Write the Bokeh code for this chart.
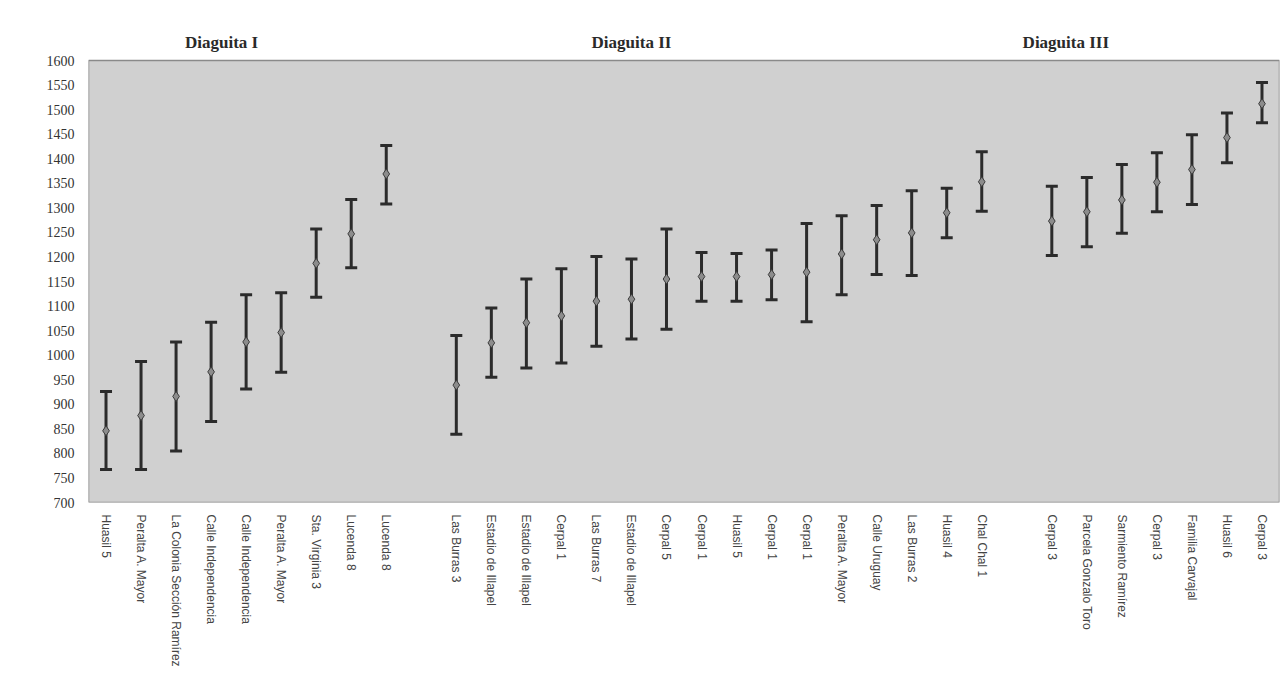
from bokeh.plotting import figure
from bokeh.models import Range1d, FixedTicker, ColumnDataSource
from bokeh.core.properties import value
from bokeh.embed import file_html
from bokeh.resources import INLINE

# ---------------- data ----------------
groups = ["Diaguita I", "Diaguita II", "Diaguita III"]

sites_1 = ["Huasil 5", "Peralta A. Mayor", "La Colonia Sección Ramírez",
           "Calle Independencia", "Calle Independencia", "Peralta A. Mayor",
           "Sta. Virginia 3", "Lucenda 8", "Lucenda 8"]
mean_1 = [846, 877, 916, 966, 1027, 1046, 1187, 1247, 1369]
low_1 = [767, 767, 805, 865, 931, 965, 1118, 1178, 1308]
high_1 = [926, 987, 1027, 1067, 1123, 1127, 1257, 1317, 1427]

sites_2 = ["Las Burras 3", "Estadio de Illapel", "Estadio de Illapel", "Cerpal 1",
           "Las Burras 7", "Estadio de Illapel", "Cerpal 5", "Cerpal 1", "Huasil 5",
           "Cerpal 1", "Cerpal 1", "Peralta A. Mayor", "Calle Uruguay",
           "Las Burras 2", "Huasil 4", "Chal Chal 1"]
mean_2 = [939, 1025, 1066, 1080, 1110, 1114, 1155, 1160, 1160, 1164, 1169,
          1206, 1235, 1249, 1290, 1353]
low_2 = [839, 955, 974, 984, 1018, 1033, 1053, 1110, 1110, 1113, 1068,
         1123, 1164, 1162, 1239, 1293]
high_2 = [1040, 1096, 1155, 1176, 1201, 1196, 1257, 1209, 1207, 1214, 1268,
          1284, 1305, 1335, 1340, 1414]

sites_3 = ["Cerpal 3", "Parcela Gonzalo Toro", "Sarmiento Ramírez", "Cerpal 3",
           "Familia Carvajal", "Huasil 6", "Cerpal 3"]
mean_3 = [1273, 1292, 1316, 1352, 1378, 1443, 1512]
low_3 = [1203, 1221, 1248, 1292, 1307, 1392, 1473]
high_3 = [1344, 1362, 1388, 1412, 1449, 1493, 1555]

y_min, y_max = 700, 1600
y_ticks = list(range(y_min, y_max + 1, 50))

# ---------------- layout of categories (one empty slot between groups) -----
all_sites, xs, means, lows, highs = [], [], [], [], []
pos = 0
group_spans = []
for sites, m, lo, hi in [(sites_1, mean_1, low_1, high_1),
                         (sites_2, mean_2, low_2, high_2),
                         (sites_3, mean_3, low_3, high_3)]:
    start = pos
    for s, mm, l, h in zip(sites, m, lo, hi):
        all_sites.append(s); xs.append(pos); means.append(mm); lows.append(l); highs.append(h)
        pos += 1
    group_spans.append((start, pos - 1))
    pos += 1  # gap slot
n_slots = pos - 1

src = ColumnDataSource(dict(x=xs, mean=means, low=lows, high=highs))

serif = "Liberation Serif"

# frame: 442 px for 700..1600, plus 50 px headroom above for group titles
px_per_unit = 442 / (y_max - y_min)
y_top = y_max + 50 / px_per_unit

p = figure(width=1283, height=676, output_backend="svg", toolbar_location=None,
           x_range=Range1d(-0.5, n_slots - 0.5), y_range=Range1d(y_min, y_top),
           min_border_left=88, min_border_right=4, min_border_top=10,
           min_border_bottom=174)

p.background_fill_color = "white"
p.border_fill_color = "white"
p.outline_line_color = None
p.xgrid.visible = False
p.ygrid.visible = False

# grey plotting panel 700..1600
p.quad(left=[-0.5], right=[n_slots - 0.5], bottom=[y_min], top=[y_max],
       fill_color="#d0d0d0", line_color="#8a8a8a", line_width=1.5)

# y axis
p.yaxis.ticker = FixedTicker(ticks=y_ticks)
p.yaxis.axis_line_color = None
p.yaxis.major_tick_line_color = None
p.yaxis.minor_tick_line_color = None
p.yaxis.major_label_text_font = serif
p.yaxis.major_label_text_font_size = "14px"
p.yaxis.major_label_text_color = "#333333"
p.yaxis.major_label_standoff = 8

# x axis
p.xaxis.ticker = FixedTicker(ticks=xs)
p.xaxis.major_label_overrides = {x: s for x, s in zip(xs, all_sites)}
p.xaxis.major_label_orientation = "vertical"
p.xaxis.axis_line_color = None
p.xaxis.major_tick_line_color = None
p.xaxis.minor_tick_line_color = None
p.xaxis.major_label_text_font = "Liberation Sans"
p.xaxis.major_label_text_font_size = "12px"
p.xaxis.major_label_text_color = "#444444"
p.xaxis.major_label_standoff = 6

# error bars
bar_color = "#2b2b2b"
p.segment(x0="x", y0="low", x1="x", y1="high", source=src,
          line_color=bar_color, line_width=3)
p.scatter(x="x", y="high", source=src, marker="dash", size=12,
          line_color=bar_color, line_width=3)
p.scatter(x="x", y="low", source=src, marker="dash", size=12,
          line_color=bar_color, line_width=3)
p.scatter(x="x", y="mean", source=src, marker="diamond", size=10,
          fill_color="#8c8c8c", line_color="#3a3a3a", line_width=1)

# group titles just above the panel
title_x_shift = [-0.7, -2.5, -2.6]
tx = [(a + b) / 2 + dx for (a, b), dx in zip(group_spans, title_x_shift)]
ty = [y_max + 18 / px_per_unit] * len(groups)
p.text(x=tx, y=ty, text=groups, text_align="center", text_baseline="middle",
       text_font=value(serif), text_font_size="17px", text_font_style="bold",
       text_color="#2a2a2a")

open("out.html", "w").write(file_html(p, INLINE))
